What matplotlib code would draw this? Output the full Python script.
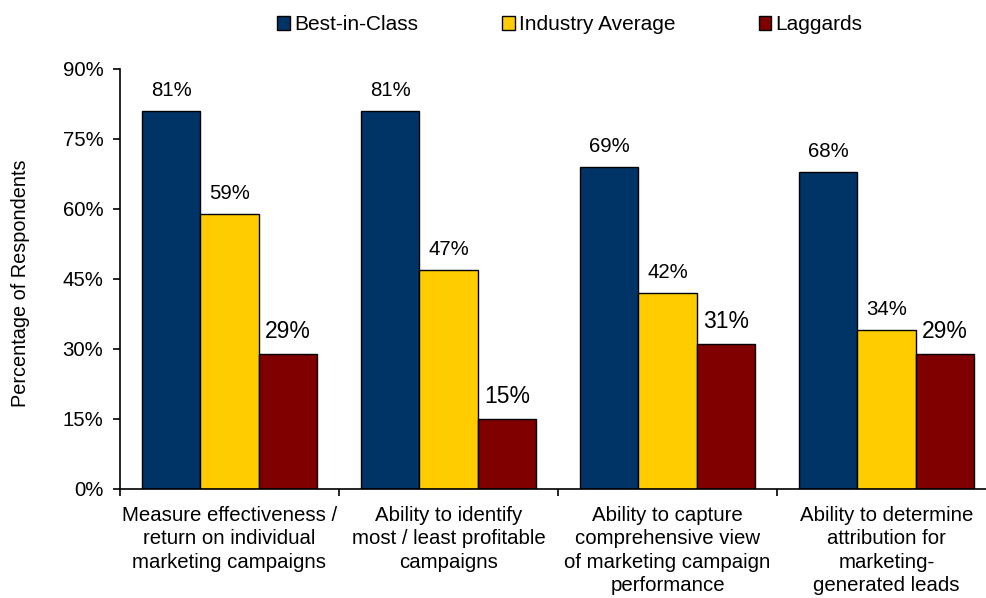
import numpy as np
import matplotlib.pyplot as plt
from matplotlib.ticker import FuncFormatter

plt.rcParams['font.family'] = ['Liberation Sans', 'DejaVu Sans']

# 数据
categories = [
    "Measure effectiveness /\nreturn on individual\nmarketing campaigns",
    "Ability to identify\nmost / least profitable\ncampaigns",
    "Ability to capture\ncomprehensive view\nof marketing campaign\nperformance",
    "Ability to determine\nattribution for\nmarketing-\ngenerated leads",
]
series_names = ["Best-in-Class", "Industry Average", "Laggards"]
best_in_class = [81, 81, 69, 68]
industry_avg = [59, 47, 42, 34]
laggards = [29, 15, 31, 29]
y_ticks = [0, 15, 30, 45, 60, 75, 90]

colors = ["#003366", "#FFCC00", "#800000"]
label_sizes = [14.7, 14.7, 16.5]

fig = plt.figure(figsize=(9.86, 5.98), dpi=100)
ax = fig.add_axes([120 / 986, 1 - 489 / 598, 876 / 986, 420 / 598])

x = np.arange(len(categories))
width = 0.267
for i, (vals, name) in enumerate(zip([best_in_class, industry_avg, laggards], series_names)):
    pos = x + (i - 1) * width
    bars = ax.bar(pos, vals, width, color=colors[i], edgecolor='black', linewidth=1, label=name)
    for b, v in zip(bars, vals):
        ax.annotate(f"{v}%", (b.get_x() + b.get_width() / 2, v), xytext=(0, 8),
                    textcoords='offset points', ha='center', va='bottom',
                    fontsize=label_sizes[i])

ax.set_xlim(-0.5, len(categories) - 0.5)
ax.set_ylim(0, 90)
ax.set_yticks(y_ticks)
ax.yaxis.set_major_formatter(FuncFormatter(lambda v, _: f"{v:.0f}%"))

# 类别刻度在组之间, 标签放在组中间
ax.set_xticks(np.arange(len(categories) + 1) - 0.5)
ax.set_xticklabels([])
ax.set_xticks(x, minor=True)
ax.set_xticklabels(categories, minor=True, fontsize=14.7, linespacing=1.3, va='top')
ax.tick_params(axis='x', which='minor', length=0, pad=12)
ax.tick_params(axis='x', which='major', length=5, width=1.2, direction='out')
ax.tick_params(axis='y', length=5, width=1.2, direction='out', labelsize=14.7, pad=7)

for s in ['top', 'right']:
    ax.spines[s].set_visible(False)
for s in ['left', 'bottom']:
    ax.spines[s].set_linewidth(1.2)

ax.set_ylabel("Percentage of Respondents", fontsize=14.3)
ax.yaxis.set_label_coords(-0.103, 0.49)

fig.legend(loc='center', bbox_to_anchor=(0.578, 1 - 25 / 598), ncol=3, frameon=False,
           fontsize=15, handlelength=0.62, handleheight=0.62, handletextpad=0.2,
           columnspacing=4.0)

fig.savefig("out.png", dpi=100)
